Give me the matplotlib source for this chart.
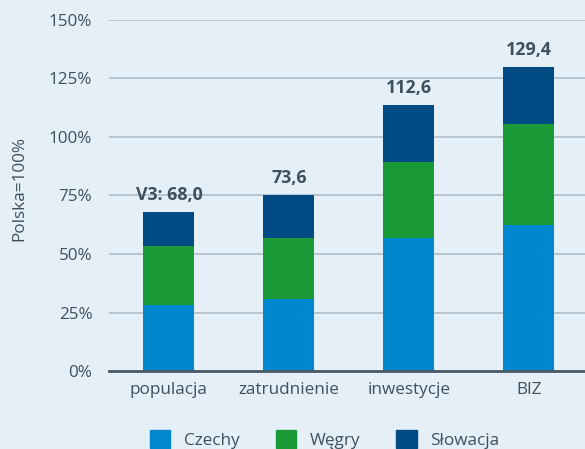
import matplotlib
matplotlib.use("Agg")
import matplotlib.pyplot as plt
from matplotlib.patches import Patch

# data (share of Poland = 100%)
categories = ["populacja", "zatrudnienie", "inwestycje", "BIZ"]
czechy = [28.2, 30.6, 56.9, 62.3]
wegry = [25.1, 26.1, 32.3, 43.1]
slowacja = [14.5, 18.4, 24.3, 24.3]
total_labels = ["V3: 68,0", "73,6", "112,6", "129,4"]
yticks = [0, 25, 50, 75, 100, 125, 150]

bg = "#e5eff8"
txt = "#3f505d"
c_cz, c_hu, c_sk = "#0088ce", "#1a9a36", "#004b83"

plt.rcParams["font.family"] = ["Open Sans", "DejaVu Sans"]
fs = 12.3

fig = plt.figure(figsize=(5.85, 4.49), dpi=100, facecolor=bg)
ax = fig.add_axes([0.1863, 0.1737, 0.8137, 0.7818], facecolor=bg)

x = list(range(len(categories)))
w = 0.425
bottom2 = [a + b for a, b in zip(czechy, wegry)]
tops = [a + b for a, b in zip(bottom2, slowacja)]
ax.bar(x, czechy, w, color=c_cz, zorder=3, label="Czechy")
ax.bar(x, wegry, w, bottom=czechy, color=c_hu, zorder=3, label="Węgry")
ax.bar(x, slowacja, w, bottom=bottom2, color=c_sk, zorder=3, label="Słowacja")

for xi, t, lab in zip(x, tops, total_labels):
    ax.annotate(lab, (xi, t), xytext=(0, 6), textcoords="offset points",
                ha="center", va="bottom", fontsize=12.8, fontweight="bold", color=txt)

ax.set_xlim(-0.5, 3.47)
ax.set_ylim(0, 150)
ax.set_yticks(yticks)
ax.set_yticklabels([f"{v}%" for v in yticks])
ax.set_xticks(x)
ax.set_xticklabels(categories)
ax.tick_params(axis="both", length=0, labelsize=fs, colors=txt)
ax.tick_params(axis="y", pad=12)
ax.tick_params(axis="x", pad=8)
ax.grid(axis="y", color="#b4c2cd", linewidth=1.3, zorder=0)
ax.set_axisbelow(True)
for s in ["top", "right", "left"]:
    ax.spines[s].set_visible(False)
ax.spines["bottom"].set_color("#4a5a66")
ax.spines["bottom"].set_linewidth(2)
ax.spines["bottom"].set_zorder(4)

ax.set_ylabel("Polska=100%", fontsize=fs, color=txt)
ax.yaxis.set_label_coords(-0.172, 0.521)

handles = [Patch(color=c_cz), Patch(color=c_hu), Patch(color=c_sk)]
fig.legend(handles, ["Czechy", "Węgry", "Słowacja"], loc="center",
           bbox_to_anchor=(0.555, 0.021), ncol=3, frameon=False,
           fontsize=fs, labelcolor=txt, handlelength=1.2, handleheight=1.2,
           handletextpad=0.8, columnspacing=2.1)

fig.savefig("out.png", dpi=100, facecolor=bg)
